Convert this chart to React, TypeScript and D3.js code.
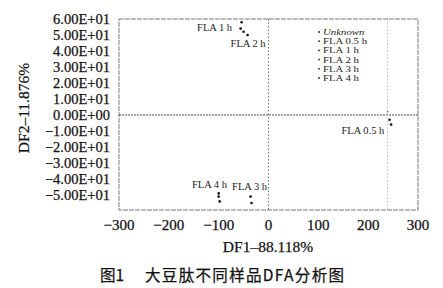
import React from "react";
import * as d3 from "d3";

const xTicks = [-300, -200, -100, 0, 100, 200, 300];
const yTicks = [60, 50, 40, 30, 20, 10, 0, -10, -20, -30, -40, -50];
const yTickLabels = ["6.00E+01", "5.00E+01", "4.00E+01", "3.00E+01", "2.00E+01", "1.00E+01", "0.00E+00", "−1.00E+01", "−2.00E+01", "−3.00E+01", "−4.00E+01", "−5.00E+01"];
const xTickLabels = ["−300", "−200", "−100", "0", "100", "200", "300"];

const seriesNames = ["Unknown", "FLA 0.5 h", "FLA 1 h", "FLA 2 h", "FLA 3 h", "FLA 4 h"];
const unknownPts: [number, number][] = [[239, 2]];
const fla05Pts: [number, number][] = [[243, -3], [246, -6]];
const fla1Pts: [number, number][] = [[-54, 58], [-56, 54]];
const fla2Pts: [number, number][] = [[-50, 52], [-42, 50]];
const fla3Pts: [number, number][] = [[-36, -51], [-34, -55]];
const fla4Pts: [number, number][] = [[-100, -49], [-100, -51], [-98, -54]];
const vLines = [0, 239];
const hLines = [0];

const xTitle = "DF1–88.118%";
const yTitle = "DF2–11.876%";
const captionNum = "图1";
const captionText = "大豆肽不同样品DFA分析图";

const serif = "'Liberation Serif', 'Times New Roman', serif";
const cjk = "'Noto Sans CJK SC', sans-serif";

export default function App() {
  const W = 443, H = 288;
  const x = d3.scaleLinear().domain([-300, 300]).range([119, 418]);
  const y = d3.scaleLinear().domain([-60, 60]).range([211, 19]);
  const left = 119, right = 418, top = 19, bottom = 210;

  const groups = [
    { name: seriesNames[0], pts: unknownPts, label: null as any },
    { name: seriesNames[1], pts: fla05Pts, label: { dx: -6, dy: 12, anchor: "end" } },
    { name: seriesNames[2], pts: fla1Pts, label: { dx: -9, dy: 6, anchor: "end" } },
    { name: seriesNames[3], pts: fla2Pts, label: { dx: -15, dy: 14, anchor: "start" } },
    { name: seriesNames[4], pts: fla3Pts, label: { dx: -19, dy: -10, anchor: "start" } },
    { name: seriesNames[5], pts: fla4Pts, label: { dx: -27, dy: -9, anchor: "start" } },
  ];

  const ink = { fill: "#111", stroke: "#111", strokeWidth: 0.25 };

  return (
    <svg width={W} height={H} style={{ position: "absolute", left: 0, top: 0, background: "#fff" }}>
      <rect x={left} y={top} width={right - left} height={bottom - top} fill="none" stroke="#555" strokeWidth={0.8} strokeDasharray="5 1" />
      {hLines.map((v, i) => (
        <line key={"h" + i} x1={left} x2={right} y1={y(v)} y2={y(v)} stroke="#333" strokeWidth={0.9} strokeDasharray="2 1" />
      ))}
      {vLines.map((v, i) => (
        <line key={"v" + i} x1={x(v)} x2={x(v)} y1={top} y2={bottom} stroke={i === 0 ? "#444" : "#aaa"} strokeWidth={0.8} strokeDasharray="1.5 2" />
      ))}
      {yTicks.map((t, i) => (
        <text key={"yt" + i} x={110} y={y(t)} dy="0.35em" textAnchor="end" fontFamily={serif} fontSize={14.5} {...ink}>
          {yTickLabels[i]}
        </text>
      ))}
      {xTicks.map((t, i) => (
        <text key={"xt" + i} x={x(t)} y={230} textAnchor="middle" fontFamily={serif} fontSize={15} {...ink}>
          {xTickLabels[i]}
        </text>
      ))}
      {groups.map((g, gi) => (
        <g key={"g" + gi}>
          {g.pts.map((p, pi) => (
            <circle key={pi} cx={x(p[0])} cy={y(p[1])} r={gi === 0 ? 0.8 : 1.3} fill={gi === 0 ? "#666" : "#111"} />
          ))}
          {g.label && (
            <text
              x={d3.mean(g.pts, (p) => x(p[0]))! + g.label.dx}
              y={d3.mean(g.pts, (p) => y(p[1]))! + g.label.dy}
              textAnchor={g.label.anchor}
              fontFamily={serif}
              fontSize={10.5}
              fill="#222"
            >
              {g.name}
            </text>
          )}
        </g>
      ))}
      {seriesNames.map((n, i) => (
        <g key={"lg" + i} transform={`translate(319, ${32 + i * 9.2})`}>
          <circle cx={0} cy={0} r={0.9} fill="#222" />
          <text transform="translate(4,0) scale(1.2,1)" x={0} y={0} dy="0.33em" fontFamily={serif} fontSize={9} fill="#222" fontStyle={i === 0 ? "italic" : "normal"}>
            {n}
          </text>
        </g>
      ))}
      <text x={268} y={252} textAnchor="middle" fontFamily={serif} fontSize={15.5} {...ink}>{xTitle}</text>
      <text transform={`translate(29, 108) rotate(-90)`} textAnchor="middle" fontFamily={serif} fontSize={15.5} {...ink}>{yTitle}</text>
      <text x={100} y={281} fontFamily={cjk} fontSize={15.5} {...ink}>{captionNum}</text>
      <text x={145} y={281} fontFamily={cjk} fontSize={15.5} textLength={199} lengthAdjust="spacing" {...ink}>{captionText}</text>
    </svg>
  );
}
